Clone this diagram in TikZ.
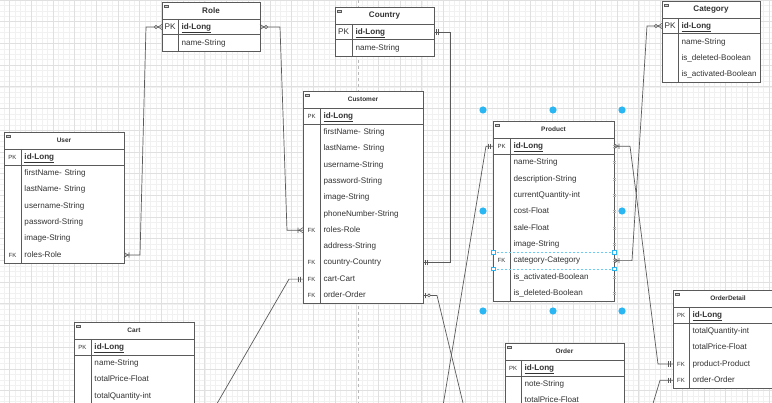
\documentclass[tikz,border=0pt]{standalone}
\usepackage{fontspec}
\setmainfont{Liberation Sans}
\usetikzlibrary{calc,matrix,positioning}

\definecolor{erline}{HTML}{5A5A5A}
\definecolor{ertext}{HTML}{333333}
\definecolor{selblue}{HTML}{29B6F2}
\definecolor{gridmaj}{HTML}{E0E0E0}
\definecolor{gridmin}{HTML}{F1F1F1}

\newcommand\rowfont{\fontsize{8.1}{9.5}\selectfont\exhyphenpenalty=10000 \hyphenpenalty=10000 }
\newcommand\keyS{\fontsize{6}{7}\selectfont}
\newcommand\keyL{\fontsize{8.2}{9.5}\selectfont}
\newcommand\pkid{\textbf{\underline{id-Long}}}

\tikzset{
  ertable/.style n args={4}{matrix of nodes, nodes in empty cells,
    anchor=north west, inner sep=0pt, outer sep=0pt, fill=white,
    nodes={inner sep=0pt, outer sep=0pt, anchor=center, text=ertext,
      minimum height=#3, text height=6pt, text depth=1.7pt, font=\rowfont},
    column 1/.style={nodes={minimum width=#1, font=#4}},
    column 2/.style={nodes={text width=#2, inner xsep=3.5pt, align=left}}},
  ertitle/.style={fill=white, inner sep=0pt, outer sep=0pt, minimum height=17pt,
    text=ertext, font=\fontsize{6.5}{8}\selectfont\bfseries},
  bigtitle/.style={ertitle, font=\fontsize{8.1}{9.5}\selectfont\bfseries},
  tbl/.style={draw=erline, line width=0.8pt},
  conn/.style={draw=erline, line width=0.7pt},
  mk/.style={draw=erline, line width=0.6pt},
  mandone/.pic={\draw[mk] (2.5,-2.6) -- (2.5,2.6) (4.5,-2.6) -- (4.5,2.6);},
  zeromany/.pic={\draw[mk] (0,-2.6) -- (4,0) -- (0,2.6);
    \draw[mk, fill=white] (6,0) circle[radius=1.6pt];},
  onemany/.pic={\draw[mk] (0,-2.6) -- (4,0) -- (0,2.6) (5,-2.6) -- (5,2.6);},
  zeroone/.pic={\draw[mk] (2.5,-2.6) -- (2.5,2.6);
    \draw[mk, fill=white] (6,0) circle[radius=1.6pt];},
}

\begin{document}
\begin{tikzpicture}[x=1pt, y=-1pt]
  \useasboundingbox (0,0) rectangle (772,403);
  \clip (0,0) rectangle (772,403);
  \fill[white] (0,0) rectangle (772,403);

  % grid of the canvas
  \foreach \x in {-12.3,-6.875,...,775} \draw[gridmin, line width=0.4pt] (\x,0) -- (\x,403);
  \foreach \y in {0,5.425,...,405} \draw[gridmin, line width=0.4pt] (0,\y) -- (772,\y);
  \foreach \x in {-12.3,9.4,...,775} \draw[gridmaj, line width=0.6pt] (\x,0) -- (\x,403);
  \foreach \y in {0,21.7,...,405} \draw[gridmaj, line width=0.6pt] (0,\y) -- (772,\y);
  \draw[gray!55, line width=0.5pt, dash pattern=on 3pt off 3pt] (358,0) -- (358,403);

  % tables
  \matrix[ertable={16pt}{75pt}{16pt}{\keyL}] (role) at (162,19) {
    PK & \pkid \\
       & name-String \\
  };
  \node[bigtitle, minimum width=98pt, above right=0pt of role.north west] (role-t) {Role};

  \matrix[ertable={17pt}{75pt}{16pt}{\keyL}] (country) at (335,24) {
    PK & \pkid \\
       & name-String \\
  };
  \node[bigtitle, minimum width=99pt, above right=0pt of country.north west] (country-t) {Country};

  \matrix[ertable={16pt}{75pt}{16pt}{\keyL}] (category) at (662,18) {
    PK & \pkid \\
       & name-String \\
       & is\_deleted-Boolean \\
       & is\_activated-Boolean \\
  };
  \node[bigtitle, minimum width=98pt, above right=0pt of category.north west] (category-t) {Category};

  \matrix[ertable={17pt}{96pt}{16.3pt}{\keyS}] (user) at (4,149) {
    PK & \pkid \\
       & firstName- String \\
       & lastName- String \\
       & username-String \\
       & password-String \\
       & image-String \\
    FK & roles-Role \\
  };
  \node[ertitle, minimum width=120pt, above right=0pt of user.north west] (user-t) {User};

  \matrix[ertable={17pt}{96pt}{16.3pt}{\keyS}] (customer) at (303,108) {
    PK & \pkid \\
       & firstName- String \\
       & lastName- String \\
       & username-String \\
       & password-String \\
       & image-String \\
       & phoneNumber-String \\
    FK & roles-Role \\
       & address-String \\
    FK & country-Country \\
    FK & cart-Cart \\
    FK & order-Order \\
  };
  \node[ertitle, minimum width=120pt, above right=0pt of customer.north west] (customer-t) {Customer};

  \matrix[ertable={17pt}{97pt}{16.35pt}{\keyS}] (product) at (493,138) {
    PK & \pkid \\
       & name-String \\
       & description-String \\
       & currentQuantity-int \\
       & cost-Float \\
       & sale-Float \\
       & image-String \\
    FK & category-Category \\
       & is\_activated-Boolean \\
       & is\_deleted-Boolean \\
  };
  \node[ertitle, minimum width=121pt, above right=0pt of product.north west] (product-t) {Product};

  \matrix[ertable={17pt}{96pt}{16.3pt}{\keyS}] (cart) at (74,339) {
    PK & \pkid \\
       & name-String \\
       & totalPrice-Float \\
       & totalQuantity-int \\
  };
  \node[ertitle, minimum width=120pt, above right=0pt of cart.north west] (cart-t) {Cart};

  \matrix[ertable={16pt}{96pt}{16.3pt}{\keyS}] (order) at (505,360) {
    PK & \pkid \\
       & note-String \\
       & totalPrice-Float \\
  };
  \node[ertitle, minimum width=119pt, above right=0pt of order.north west] (order-t) {Order};

  \matrix[ertable={16pt}{87pt}{16.3pt}{\keyS}] (odetail) at (673,307) {
    PK & \pkid \\
       & totalQuantity-int \\
       & totalPrice-Float \\
    FK & product-Product \\
    FK & order-Order \\
  };
  \node[ertitle, minimum width=110pt, above right=0pt of odetail.north west] (odetail-t) {OrderDetail};

  % borders, header rule, key rule, key column
  \foreach \t in {role,country,category,user,customer,product,cart,order,odetail} {
    \draw[tbl] (\t-t.north west) rectangle (\t.south east);
    \draw[tbl] (\t.north west) -- (\t.north east);
    \draw[tbl, line width=1pt] (\t-1-1.south west) -- (\t-1-2.south east);
    \draw[tbl] (\t-1-1.north east) -- (\t-1-1.north east |- \t.south);
    \draw[erline, fill=gray!35, line width=0.3pt] ($(\t-t.north west)+(2.5,3)$) rectangle ++(3.5,2.5);
  }

  % row marks on the selected table
  \foreach \r in {1,...,10}
    \draw[gray!60, line width=0.4pt] ($(product-\r-2.east)+(-1.5,-1)$) -- ++(3,0)
      ($(product-\r-2.east)+(-1.5,1)$) -- ++(3,0);

  % relations
  \coordinate (cart-end) at (200,433);
  \coordinate (order-end) at (470,432);
  \coordinate (pk-end) at (439,430);
  \coordinate (od-end) at (645,430);

  \draw[conn] (role-1-1.west) -- ++(-16,0) -- ($(user-7-2.east)+(16,0)$) -- (user-7-2.east);
  \draw[conn] (role-1-2.east) -- ++(20,0) -- ($(customer-8-1.west)+(-16,0)$) -- (customer-8-1.west);
  \draw[conn] (country-1-2.east) -- ++(16,0) |- (customer-10-2.east);
  \draw[conn] (customer-11-1.west) -- ++(-14,0) -- (cart-end);
  \draw[conn] (customer-12-2.east) -- ++(14,0) -- (order-end);
  \draw[conn] (product-1-1.west) -- ++(-7,0) -- (pk-end);
  \draw[conn] (product-1-2.east) -- ++(16,0) -- ($(odetail-4-1.west)+(-15,0)$) -- (odetail-4-1.west);
  \draw[conn] (category-1-1.west) -- ++(-15,0) -- ($(product-8-2.east)+(18,0)$) -- (product-8-2.east);
  \draw[conn] (odetail-5-1.west) -- ++(-13,0) -- (od-end);

  \pic[xscale=-1] at (role-1-1.west) {zeromany};
  \pic at (role-1-2.east) {zeromany};
  \pic at (user-7-2.east) {onemany};
  \pic[xscale=-1] at (customer-8-1.west) {onemany};
  \pic at (country-1-2.east) {mandone};
  \pic at (customer-10-2.east) {mandone};
  \pic[xscale=-1] at (customer-11-1.west) {mandone};
  \pic at (customer-12-2.east) {zeroone};
  \pic[xscale=-1] at (product-1-1.west) {mandone};
  \pic at (product-1-2.east) {onemany};
  \pic[xscale=-1] at (category-1-1.west) {zeromany};
  \pic at (product-8-2.east) {onemany};
  \pic[xscale=-1] at (odetail-4-1.west) {mandone};
  \pic[xscale=-1] at (odetail-5-1.west) {mandone};

  % selection of Product
  \draw[selblue!70, line width=0.5pt, dash pattern=on 2pt off 2pt]
    (product-8-1.north west) -- (product-8-2.north east)
    (product-8-1.south west) -- (product-8-2.south east);
  \foreach \c in {product-8-1.north west, product-8-1.south west,
                  product-8-2.north east, product-8-2.south east}
    \draw[selblue, fill=white, line width=0.5pt] ($(\c)+(-1.8,-1.8)$) rectangle ++(3.6,3.6);
  \foreach \hx/\hy in {483/110, 553/110, 622/110, 483/211, 622/211, 483/311, 553/311, 622/311}
    \fill[selblue] (\hx,\hy) circle[radius=3.6pt];
\end{tikzpicture}
\end{document}
